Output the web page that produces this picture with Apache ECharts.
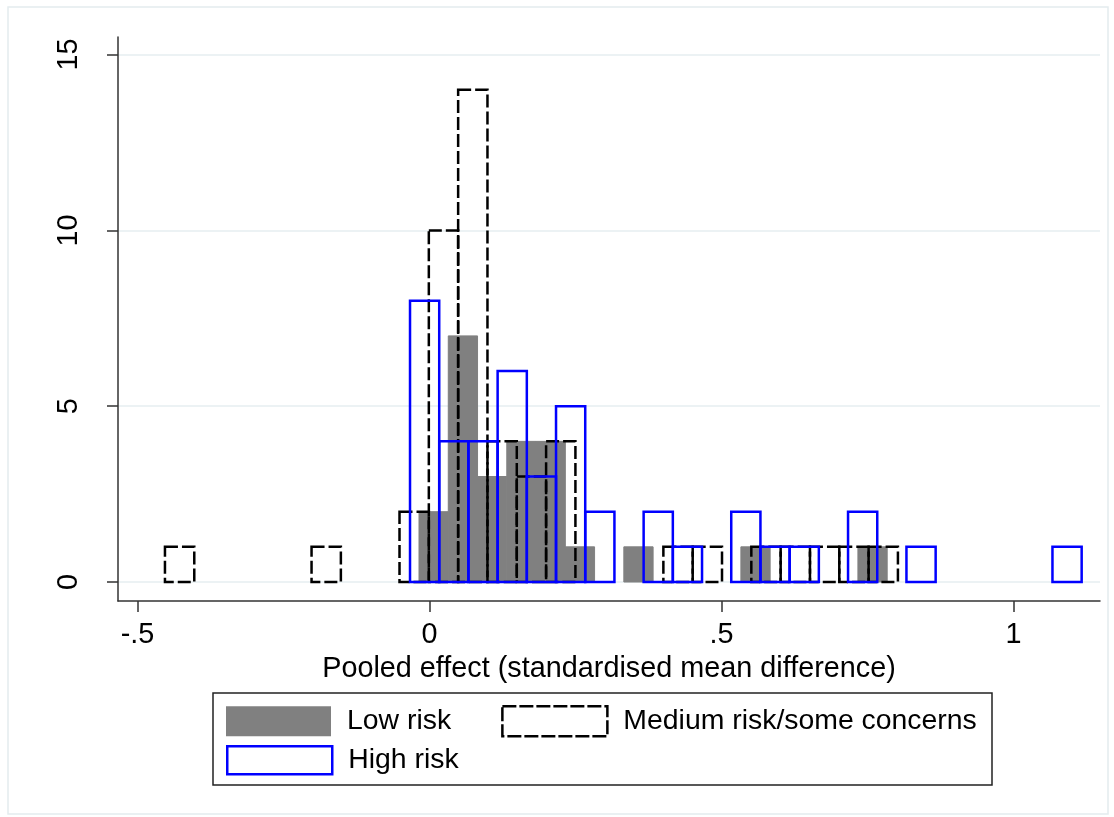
<!DOCTYPE html>
<html>
<head>
<meta charset="utf-8">
<title>Pooled effect histogram</title>
<script src="https://cdn.jsdelivr.net/npm/echarts@6.0.0/dist/echarts.min.js"></script>
<style>
  html, body { margin: 0; padding: 0; background: #fff; }
  #chart { width: 1114px; height: 817px; }
</style>
</head>
<body>
<div id="chart"></div>
<script>
// counts per bin; each group has its own bin start
const lowStart = -0.018, lowWidth = 0.0501;
const lowCounts = [2, 7, 3, 4, 4, 1, 0, 1, 0, 0, 0, 1, 0, 0, 0, 1];

const mediumStart = -0.453, mediumWidth = 0.0502;
const mediumCounts = [1, 0, 0, 0, 0, 1, 0, 0, 2, 10, 14, 4, 3, 4, 0, 0, 0, 1, 1, 0, 1, 1, 1, 1, 1];

const highStart = -0.0334, highWidth = 0.05;
const highCounts = [8, 4, 4, 6, 3, 5, 2, 0, 2, 1, 0, 2, 1, 1, 0, 2, 0, 1, 0, 0, 0, 0, 1];

const xTicks = [-0.5, 0, 0.5, 1];
const yTicks = [0, 5, 10, 15];

const FONT = '"Liberation Sans", Arial, sans-serif';
const FS = 28.8;
const LEGEND_FS = 28.4;

const toBins = (start, width, counts) =>
  counts.map((c, i) => [start + i * width, start + (i + 1) * width, c]);

const makeBarRenderer = style => (params, api) => {
  const count = api.value(2);
  if (!count) return null;
  const p0 = api.coord([api.value(0), count]);
  const p1 = api.coord([api.value(1), 0]);
  return {
    type: 'rect',
    shape: { x: p0[0], y: p0[1], width: p1[0] - p0[0], height: p1[1] - p0[1] },
    style
  };
};

const histSeries = (name, bins, style, z) => ({
  name,
  type: 'custom',
  data: bins,
  encode: { x: [0, 1], y: 2 },
  renderItem: makeBarRenderer(style),
  z,
  silent: true
});

const chart = echarts.init(document.getElementById('chart'), null, { renderer: 'canvas' });

chart.setOption({
  animation: false,
  backgroundColor: '#fff',
  textStyle: { fontFamily: FONT },
  grid: { left: 118, right: 14, top: 37, bottom: 216, containLabel: false },
  xAxis: {
    type: 'value',
    min: -0.5334,
    max: 1.148,
    name: 'Pooled effect (standardised mean difference)',
    nameLocation: 'middle',
    nameGap: 46,
    nameTextStyle: { fontSize: FS, color: '#000', fontFamily: FONT },
    axisLine: { show: true, onZero: false, lineStyle: { color: '#333', width: 1.5 } },
    axisTick: { show: true, customValues: xTicks, length: 11, lineStyle: { color: '#333', width: 1.5 } },
    axisLabel: {
      customValues: xTicks,
      margin: 20,
      fontSize: FS,
      color: '#000',
      fontFamily: FONT,
      formatter: v => (v === 0 ? '0' : String(v).replace('0.', '.'))
    },
    splitLine: { show: false }
  },
  yAxis: {
    type: 'value',
    min: -0.54,
    max: 15.5,
    axisLine: { show: true, onZero: false, lineStyle: { color: '#333', width: 1.5 } },
    axisTick: { show: true, customValues: yTicks, length: 11, lineStyle: { color: '#333', width: 1.5 } },
    axisLabel: {
      customValues: yTicks,
      rotate: 90,
      margin: 34,
      fontSize: FS,
      color: '#000',
      fontFamily: FONT
    },
    splitLine: { show: true, lineStyle: { color: '#e6eef0', width: 1.5 } }
  },
  legend: [
    {
      data: [
        { name: 'Low risk', itemStyle: { color: '#808080', borderColor: '#808080', borderWidth: 0 } },
        { name: 'Medium risk/some concerns', itemStyle: { color: '#fff', borderColor: '#000', borderWidth: 2.5, borderType: [14, 3] } }
      ],
      left: 226,
      top: 705,
      orient: 'horizontal',
      icon: 'rect',
      itemWidth: 105,
      itemHeight: 30,
      itemGap: 50,
      padding: 0,
      selectedMode: false,
      textStyle: { fontSize: LEGEND_FS, color: '#000', fontFamily: FONT, padding: [0, 0, 0, 11] }
    },
    {
      data: [
        { name: 'High risk', itemStyle: { color: '#fff', borderColor: '#0000ff', borderWidth: 2.5 } }
      ],
      left: 226,
      top: 745,
      orient: 'horizontal',
      icon: 'rect',
      itemWidth: 105,
      itemHeight: 28,
      padding: 0,
      selectedMode: false,
      textStyle: { fontSize: LEGEND_FS, color: '#000', fontFamily: FONT, padding: [0, 0, 0, 11] }
    }
  ],
  graphic: [
    {
      type: 'rect',
      silent: true,
      shape: { x: 8, y: 7, width: 1100, height: 807 },
      style: { fill: 'none', stroke: '#e4ecee', lineWidth: 1.5 },
      z: -10
    },
    {
      type: 'rect',
      silent: true,
      shape: { x: 213, y: 693, width: 779, height: 92 },
      style: { fill: 'none', stroke: '#222', lineWidth: 1.5 }
    }
  ],
  series: [
    histSeries('Low risk', toBins(lowStart, lowWidth, lowCounts),
      { fill: '#808080', stroke: '#808080', lineWidth: 1 }, 2),
    histSeries('Medium risk/some concerns', toBins(mediumStart, mediumWidth, mediumCounts),
      { fill: 'none', stroke: '#000', lineWidth: 2.5, lineDash: [13, 4] }, 3),
    histSeries('High risk', toBins(highStart, highWidth, highCounts),
      { fill: 'none', stroke: '#0000ff', lineWidth: 2.5 }, 4)
  ]
});

window.addEventListener('resize', () => chart.resize());
</script>
</body>
</html>
